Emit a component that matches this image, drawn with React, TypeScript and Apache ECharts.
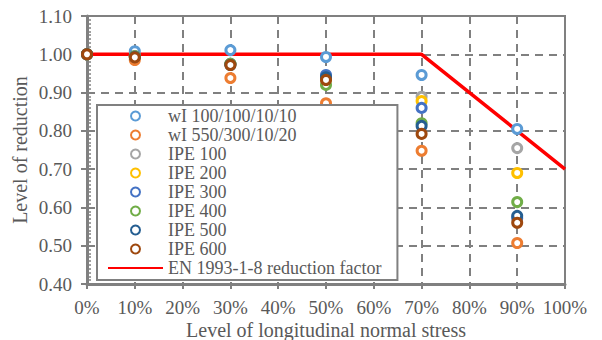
import React, { useEffect, useRef } from "react";
import * as echarts from "echarts";

const stressLevels = [0, 10, 30, 50, 70, 90];
const wI100 = [1.0, 1.008, 1.011, 0.993, 0.946, 0.805];
const wI550 = [1.0, 0.985, 0.938, 0.872, 0.748, 0.507];
const ipe100 = [1.0, 0.995, 0.975, 0.935, 0.889, 0.755];
const ipe200 = [1.0, 0.995, 0.975, 0.935, 0.878, 0.69];
const ipe300 = [1.0, 0.995, 0.975, 0.946, 0.86, 0.572];
const ipe400 = [1.0, 0.995, 0.975, 0.92, 0.82, 0.614];
const ipe500 = [1.0, 0.993, 0.972, 0.94, 0.813, 0.578];
const ipe600 = [1.0, 0.992, 0.972, 0.933, 0.792, 0.56];
const enStress = [0, 70, 100];
const enFactor = [1.0, 1.0, 0.7];

const seriesNames = [
  "wI 100/100/10/10",
  "wI 550/300/10/20",
  "IPE 100",
  "IPE 200",
  "IPE 300",
  "IPE 400",
  "IPE 500",
  "IPE 600",
];
const seriesValues = [wI100, wI550, ipe100, ipe200, ipe300, ipe400, ipe500, ipe600];
const seriesColors = ["#5B9BD5", "#ED7D31", "#A5A5A5", "#FFC000", "#4472C4", "#70AD47", "#255E91", "#9E480E"];
const enName = "EN 1993-1-8 reduction factor";

const FONT = "'Liberation Serif', 'Times New Roman', serif";
const TXT = "#595959";
const AX = "#808080";

export default function App() {
  const ref = useRef<HTMLDivElement>(null);
  useEffect(() => {
    const chart = echarts.init(ref.current!, null, { renderer: "svg" });
    const scatter = seriesNames.map((name, i) => ({
      name,
      type: "scatter",
      data: stressLevels.map((x, j) => [x, seriesValues[i][j]]),
      symbol: "circle",
      symbolSize: 9,
      itemStyle: { color: "#ffffff", borderColor: seriesColors[i], borderWidth: 3, opacity: 1 },
      z: 3,
    }));
    chart.setOption({
      animation: false,
      grid: {
        left: 87,
        right: 37,
        top: 16,
        bottom: 56,
        outerBoundsMode: "none",
        containLabel: false,
        show: true,
        borderColor: AX,
        borderWidth: 2,
        backgroundColor: "transparent",
      },
      xAxis: {
        type: "value",
        min: 0,
        max: 100,
        interval: 10,
        name: "Level of longitudinal normal stress",
        nameLocation: "middle",
        nameGap: 36,
        nameMoveOverlap: false,
        nameTextStyle: { fontFamily: FONT, fontSize: 20, color: TXT },
        axisLine: { show: true, lineStyle: { color: AX, width: 3 } },
        axisTick: { show: true, length: 5, lineStyle: { color: AX, width: 2 } },
        axisLabel: { fontFamily: FONT, fontSize: 19, color: TXT, margin: 14, formatter: (v: number) => v + "%" },
        splitLine: { show: true, lineStyle: { color: AX, width: 2, type: [8, 6] } },
      },
      yAxis: [
        {
          type: "value",
          min: 0.4,
          max: 1.1,
          interval: 0.1,
          name: "Level of reduction",
          nameLocation: "middle",
          nameGap: 57,
          nameMoveOverlap: false,
          nameTextStyle: { fontFamily: FONT, fontSize: 20, color: TXT },
          axisLine: { show: true, lineStyle: { color: AX, width: 3 } },
          axisTick: { show: true, length: 6, lineStyle: { color: AX, width: 2 } },
          axisLabel: { fontFamily: FONT, fontSize: 19, color: TXT, margin: 15, formatter: (v: number) => v.toFixed(2) },
          splitLine: { show: true, lineStyle: { color: AX, width: 2, type: [8, 6] } },
        },
        {
          type: "value",
          min: 0.4,
          max: 1.1,
          interval: 0.1,
          position: "left",
          axisLine: { show: false },
          axisLabel: { show: false },
          splitLine: { show: false },
          axisTick: { show: true, inside: true, length: 5, lineStyle: { color: AX, width: 2 } },
          minorTick: { show: true, splitNumber: 10, length: 4, lineStyle: { color: AX, width: 1.5 } },
        },
      ],
      legend: {
        orient: "vertical",
        left: 97,
        top: 105,
        itemWidth: 55,
        itemHeight: 9,
        itemGap: 1,
        padding: [2, 16, 3, 10],
        backgroundColor: "#ffffff",
        borderColor: AX,
        borderWidth: 2,
        borderRadius: 0,
        textStyle: { fontFamily: FONT, fontSize: 18, color: TXT, lineHeight: 18 },
        data: [...seriesNames, { name: enName, itemStyle: { opacity: 0 } }],
      },
      series: [
        {
          name: enName,
          type: "line",
          data: enStress.map((x, j) => [x, enFactor[j]]),
          symbol: "none",
          lineStyle: { color: "#FF0000", width: 3.5 },
          itemStyle: { color: "#FF0000" },
          z: 2,
        },
        ...scatter,
      ],
    });
    return () => chart.dispose();
  }, []);
  return <div ref={ref} style={{ position: "absolute", left: 0, top: 0, width: 602, height: 340 }} />;
}
